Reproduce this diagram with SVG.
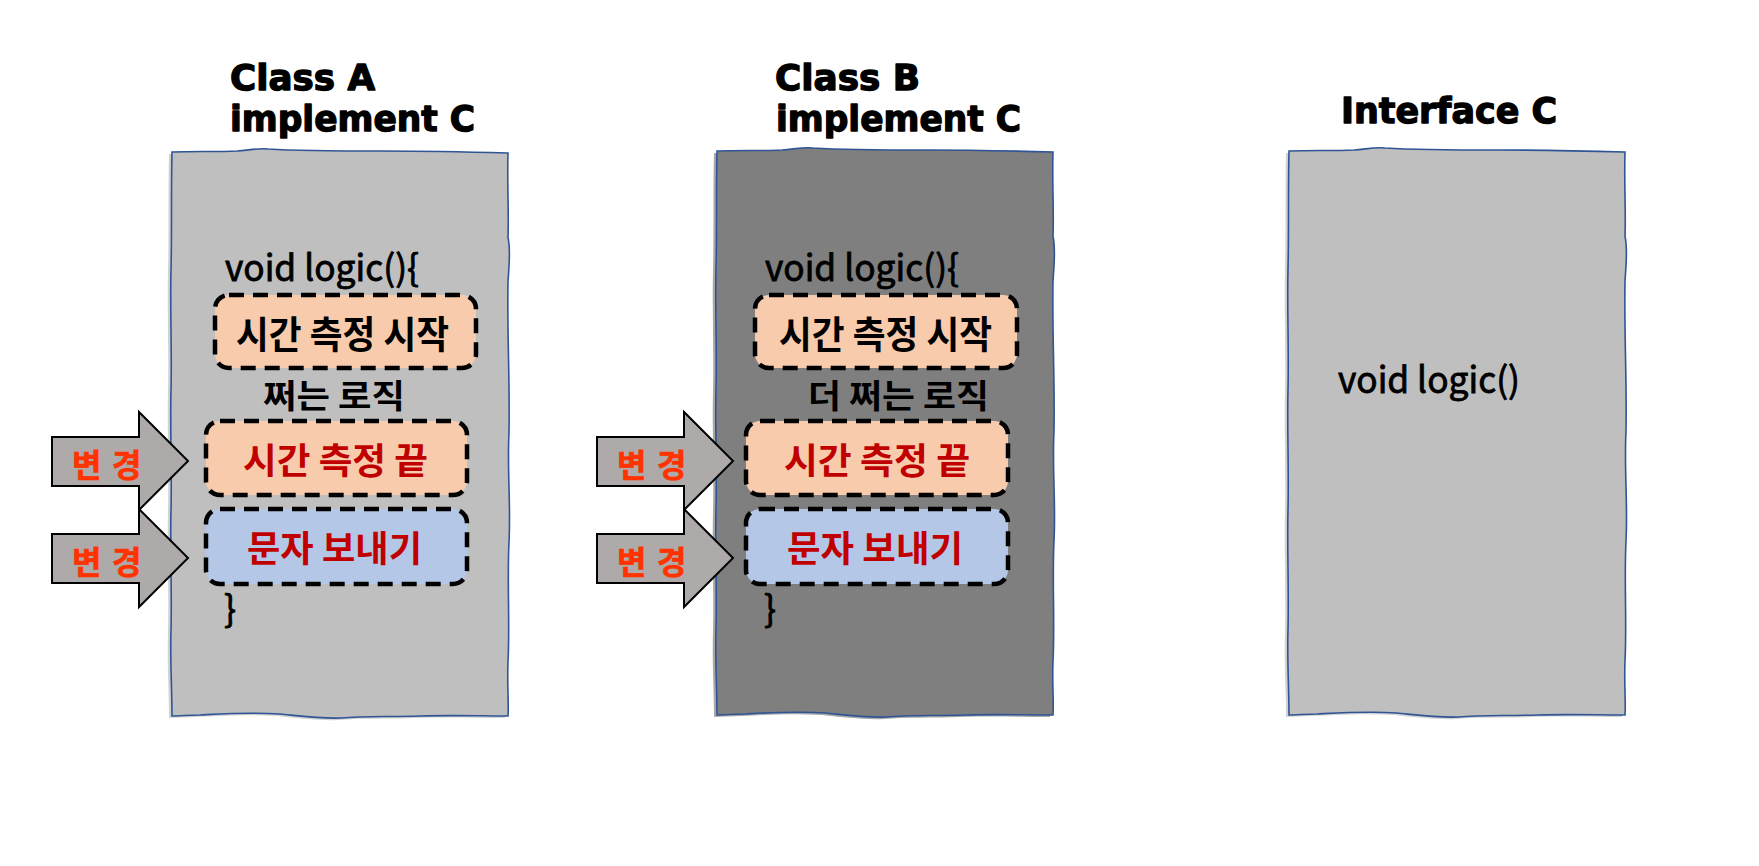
<svg xmlns="http://www.w3.org/2000/svg" width="1759" height="866" viewBox="0 0 1759 866">
<style>
.title{font-family:"DejaVu Sans","Liberation Sans",sans-serif;font-weight:bold;font-size:35px;fill:#000;stroke:#000;stroke-width:1.3;stroke-linejoin:round}
.code{font-family:"Noto Sans CJK KR","Noto Sans",sans-serif;font-size:36px;fill:#000;stroke:#000;stroke-width:0.8}
.kb{font-family:"Noto Sans CJK KR","Noto Sans",sans-serif;font-weight:bold;fill:#000}
.red{fill:#C00000}
.chg{font-family:"Noto Sans CJK KR","Noto Sans",sans-serif;font-weight:bold;font-size:32px;fill:#FF3300;stroke:#FF3300;stroke-width:0.6}
.dash{stroke:#000;stroke-width:4.5;stroke-dasharray:15 9}
.peach{fill:#F8CBAD}
.blue{fill:#B4C7E7}
.arrow{fill:#AEAAAA;stroke:#000;stroke-width:2;stroke-linejoin:miter}
.edge{stroke:#2F5597;stroke-width:1.6}
</style>
<defs>
<path id="sketch" d="M0,0 C20,-1 45,0 65,-1 C78,-2 86,-4 96,-3 C130,-1 170,-1 210,-1 C250,-1 300,0 336,1 C335,30 337,60 336,85 C339,100 337,112 336,130 C335,180 338,230 337,280 C335,320 339,350 337,390 C335,430 338,470 336,510 C335,535 337,550 336,564 C308,564 278,563 248,564 C218,565 190,564 170,566 C150,567 128,564 108,562 C78,560 48,562 28,563 C18,563 8,564 0,564 C0,538 -2,508 -1,478 C0,438 -2,398 -1,358 C0,318 -2,278 -1,238 C0,198 -2,158 -1,118 C0,78 -1,38 0,0 Z"/>
<polygon id="blockArrow" points="0,25 87,25 87,0 136,49 87,98 87,74 0,74"/>
</defs>
<rect width="1759" height="866" fill="#fff"/>

<g id="classA">
<text class="title" x="230" y="90" textLength="145" lengthAdjust="spacingAndGlyphs">Class A</text>
<text class="title" x="230" y="131" textLength="245" lengthAdjust="spacingAndGlyphs">implement C</text>
<use href="#sketch" transform="translate(169,154)" fill="#D2D2D2"/>
<use href="#sketch" class="edge" transform="translate(172,152)" fill="#BFBFBF"/>
<text class="code" x="225" y="281" textLength="194" lengthAdjust="spacingAndGlyphs">void logic(){</text>
<g id="A_start">
<rect class="dash peach" x="215" y="295" width="261" height="73" rx="14"/>
<text class="kb" x="236" y="348" font-size="38" textLength="213" lengthAdjust="spacingAndGlyphs">시간 측정 시작</text>
</g>
<text class="kb" x="263" y="408" font-size="33" textLength="142" lengthAdjust="spacingAndGlyphs">쩌는 로직</text>
<g id="A_end">
<rect class="dash peach" x="206" y="421" width="261" height="74" rx="14"/>
<text class="kb red" x="243" y="474" font-size="36" textLength="185" lengthAdjust="spacingAndGlyphs">시간 측정 끝</text>
</g>
<g id="A_sms">
<rect class="dash blue" x="206" y="509" width="261" height="75" rx="14"/>
<text class="kb red" x="247" y="562" font-size="36" textLength="175" lengthAdjust="spacingAndGlyphs">문자 보내기</text>
</g>
<text class="code" x="224" y="622">}</text>
</g>

<g id="classB">
<text class="title" x="775" y="90" textLength="145" lengthAdjust="spacingAndGlyphs">Class B</text>
<text class="title" x="776" y="131" textLength="245" lengthAdjust="spacingAndGlyphs">implement C</text>
<use href="#sketch" transform="translate(714,153)" fill="#A8A8A8"/>
<use href="#sketch" class="edge" transform="translate(717,151)" fill="#7F7F7F"/>
<text class="code" x="765" y="281" textLength="194" lengthAdjust="spacingAndGlyphs">void logic(){</text>
<g id="B_start">
<rect class="dash peach" x="755" y="295" width="262" height="73" rx="14"/>
<text class="kb" x="779" y="348" font-size="38" textLength="213" lengthAdjust="spacingAndGlyphs">시간 측정 시작</text>
</g>
<text class="kb" x="808" y="408" font-size="33" textLength="181" lengthAdjust="spacingAndGlyphs">더 쩌는 로직</text>
<g id="B_end">
<rect class="dash peach" x="746" y="421" width="262" height="74" rx="14"/>
<text class="kb red" x="784" y="474" font-size="36" textLength="186" lengthAdjust="spacingAndGlyphs">시간 측정 끝</text>
</g>
<g id="B_sms">
<rect class="dash blue" x="746" y="509" width="262" height="75" rx="14"/>
<text class="kb red" x="787" y="562" font-size="36" textLength="176" lengthAdjust="spacingAndGlyphs">문자 보내기</text>
</g>
<text class="code" x="764" y="622">}</text>
</g>

<g id="interfaceC">
<text class="title" x="1341" y="123" textLength="216" lengthAdjust="spacingAndGlyphs">Interface C</text>
<use href="#sketch" transform="translate(1286,153)" fill="#D2D2D2"/>
<use href="#sketch" class="edge" transform="translate(1289,151)" fill="#BFBFBF"/>
<text class="code" x="1338" y="393" textLength="182" lengthAdjust="spacingAndGlyphs">void logic()</text>
</g>

<g id="connectors">
<g id="arrowA1">
<use href="#blockArrow" class="arrow" transform="translate(52,412)"/>
<text class="chg" x="72" y="477">변 <tspan x="112">경</tspan></text>
</g>
<g id="arrowA2">
<use href="#blockArrow" class="arrow" transform="translate(52,509)"/>
<text class="chg" x="72" y="574">변 <tspan x="112">경</tspan></text>
</g>
<g id="arrowB1">
<use href="#blockArrow" class="arrow" transform="translate(597,412)"/>
<text class="chg" x="617" y="477">변 <tspan x="657">경</tspan></text>
</g>
<g id="arrowB2">
<use href="#blockArrow" class="arrow" transform="translate(597,509)"/>
<text class="chg" x="617" y="574">변 <tspan x="657">경</tspan></text>
</g>
</g>
</svg>
